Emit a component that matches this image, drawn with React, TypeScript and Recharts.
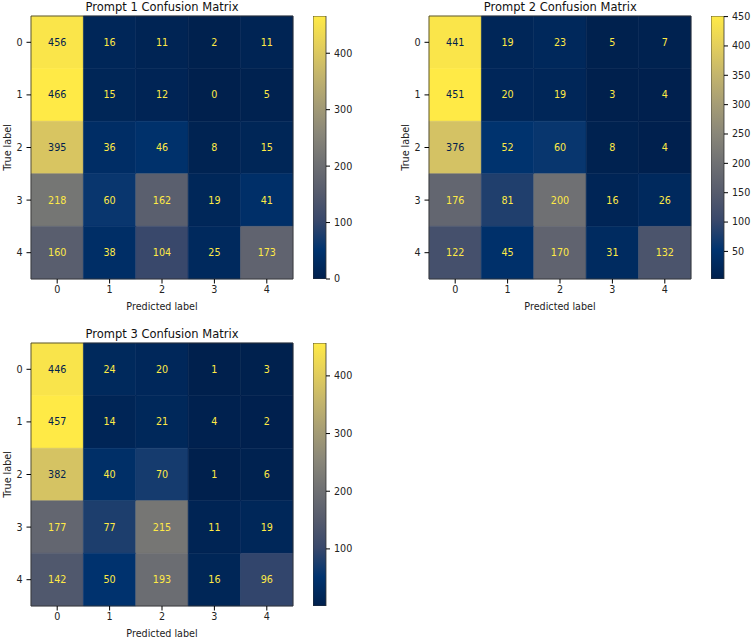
import React from "react";
import { ScatterChart, ComposedChart, XAxis, YAxis, ReferenceArea, Bar, Label } from "recharts";

const FONT = "DejaVu Sans";

const classes = [0, 1, 2, 3, 4];

const prompt1 = [
  [456, 16, 11, 2, 11],
  [466, 15, 12, 0, 5],
  [395, 36, 46, 8, 15],
  [218, 60, 162, 19, 41],
  [160, 38, 104, 25, 173],
];
const prompt2 = [
  [441, 19, 23, 5, 7],
  [451, 20, 19, 3, 4],
  [376, 52, 60, 8, 4],
  [176, 81, 200, 16, 26],
  [122, 45, 170, 31, 132],
];
const prompt3 = [
  [446, 24, 20, 1, 3],
  [457, 14, 21, 4, 2],
  [382, 40, 70, 1, 6],
  [177, 77, 215, 11, 19],
  [142, 50, 193, 16, 96],
];

const barTicks1 = [0, 100, 200, 300, 400];
const barTicks2 = [50, 100, 150, 200, 250, 300, 350, 400, 450];
const barTicks3 = [100, 200, 300, 400];

// cividis, 10 samples
const cividis = [
  "#00204D", "#00336F", "#39486B", "#575C6D", "#707173",
  "#8A8779", "#A69D75", "#C4B56C", "#E4CF5B", "#FFEA46",
];

const hexToRgb = (h: string) => [
  parseInt(h.slice(1, 3), 16),
  parseInt(h.slice(3, 5), 16),
  parseInt(h.slice(5, 7), 16),
];

const cmap = (t: number) => {
  const c = Math.max(0, Math.min(1, t)) * (cividis.length - 1);
  const i = Math.min(cividis.length - 2, Math.floor(c));
  const f = c - i;
  const a = hexToRgb(cividis[i]);
  const b = hexToRgb(cividis[i + 1]);
  const m = a.map((v, k) => Math.round(v + (b[k] - v) * f));
  return `rgb(${m[0]},${m[1]},${m[2]})`;
};

const W = 300;
const H = 320;

const Matrix = ({ id, title, data, barTicks, left, top }: any) => {
  const flat = data.flat();
  const vmin = Math.min(...flat);
  const vmax = Math.max(...flat);
  const thresh = (vmin + vmax) / 2;
  const cells = data.flatMap((row: number[], r: number) =>
    row.map((v: number, c: number) => ({ r, c, v }))
  );
  const barData = [{ name: "cb", range: [vmin, vmax] }];

  return (
    <>
      <div
        style={{
          position: "absolute",
          left: left + 31,
          top: top,
          width: 262,
          textAlign: "center",
          fontFamily: FONT,
          fontSize: 11.5,
          lineHeight: "14px",
          color: "#111",
        }}
      >
        {title}
      </div>
      <div style={{ position: "absolute", left, top }}>
        <ScatterChart width={W} height={H} margin={{ top: 16, right: 7, bottom: 7, left: 0 }}>
          <XAxis
            type="number"
            dataKey="c"
            domain={[-0.5, 4.5]}
            ticks={classes}
            interval={0}
            allowDataOverflow
            height={34}
            axisLine={false}
            tickLine={{ stroke: "#000" }}
            tickSize={4.5}
            tickMargin={3}
            tick={{ fontSize: 9.6, fill: "#222", fontFamily: FONT }}
          >
            <Label
              content={(p: any) => (
                <text
                  x={p.viewBox.x + p.viewBox.width / 2}
                  y={p.viewBox.y + 27}
                  textAnchor="middle"
                  dominantBaseline="central"
                  fontSize={9.6}
                  fontFamily={FONT}
                  fill="#222"
                >
                  Predicted label
                </text>
              )}
            />
          </XAxis>
          <YAxis
            type="number"
            dataKey="r"
            domain={[-0.5, 4.5]}
            ticks={classes}
            interval={0}
            reversed
            allowDataOverflow
            width={31}
            axisLine={false}
            tickLine={{ stroke: "#000" }}
            tickSize={4.5}
            tickMargin={4}
            tick={{ fontSize: 9.6, fill: "#222", fontFamily: FONT }}
          >
            <Label
              content={(p: any) => {
                const x = p.viewBox.x + 7;
                const y = p.viewBox.y + p.viewBox.height / 2;
                return (
                  <text
                    x={x}
                    y={y}
                    transform={`rotate(-90, ${x}, ${y})`}
                    textAnchor="middle"
                    dominantBaseline="central"
                    fontSize={9.6}
                    fontFamily={FONT}
                    fill="#222"
                  >
                    True label
                  </text>
                );
              }}
            />
          </YAxis>
          {cells.map((d: any) => {
            const col = cmap((d.v - vmin) / (vmax - vmin));
            return (
              <ReferenceArea
                key={`${id}-${d.r}-${d.c}`}
                x1={d.c - 0.5}
                x2={d.c + 0.5}
                y1={d.r - 0.5}
                y2={d.r + 0.5}
                fill={col}
                fillOpacity={1}
                stroke={col}
                strokeWidth={0.6}
                ifOverflow="visible"
                label={{
                  value: String(d.v),
                  position: "center",
                  fill: d.v >= thresh ? cividis[0] : cividis[cividis.length - 1],
                  fontSize: 9.6,
                  fontFamily: FONT,
                }}
              />
            );
          })}
          <ReferenceArea
            x1={-0.5}
            x2={4.5}
            y1={-0.5}
            y2={4.5}
            fill="none"
            stroke="#333"
            strokeWidth={0.8}
            ifOverflow="visible"
          />
        </ScatterChart>
      </div>
      <div style={{ position: "absolute", left: left + 313, top }}>
        <ComposedChart
          width={60}
          height={H}
          data={barData}
          barCategoryGap={0}
          margin={{ top: 16, right: 12, bottom: 41, left: 0 }}
        >
          <defs>
            <linearGradient id={`grad-${id}`} x1="0" y1="1" x2="0" y2="0">
              {cividis.map((c, i) => (
                <stop key={i} offset={i / (cividis.length - 1)} stopColor={c} />
              ))}
            </linearGradient>
          </defs>
          <XAxis dataKey="name" hide />
          <YAxis
            type="number"
            orientation="right"
            domain={[vmin, vmax]}
            ticks={barTicks}
            interval={0}
            allowDataOverflow
            width={35}
            axisLine={false}
            tickLine={{ stroke: "#000" }}
            tickSize={4}
            tickMargin={4}
            tick={{ fontSize: 9.6, fill: "#222", fontFamily: FONT, textAnchor: "start" }}
          />
          <Bar
            dataKey="range"
            fill={`url(#grad-${id})`}
            stroke="#333"
            strokeWidth={0.8}
            isAnimationActive={false}
          />
        </ComposedChart>
      </div>
    </>
  );
};

export default function App() {
  return (
    <div
      style={{
        position: "absolute",
        left: 0,
        top: 0,
        width: 753,
        height: 638,
        background: "#fff",
        overflow: "hidden",
      }}
    >
      <Matrix id="p1" title="Prompt 1 Confusion Matrix" data={prompt1} barTicks={barTicks1} left={0} top={0} />
      <Matrix id="p2" title="Prompt 2 Confusion Matrix" data={prompt2} barTicks={barTicks2} left={398.3} top={0} />
      <Matrix id="p3" title="Prompt 3 Confusion Matrix" data={prompt3} barTicks={barTicks3} left={0} top={327.3} />
    </div>
  );
}
